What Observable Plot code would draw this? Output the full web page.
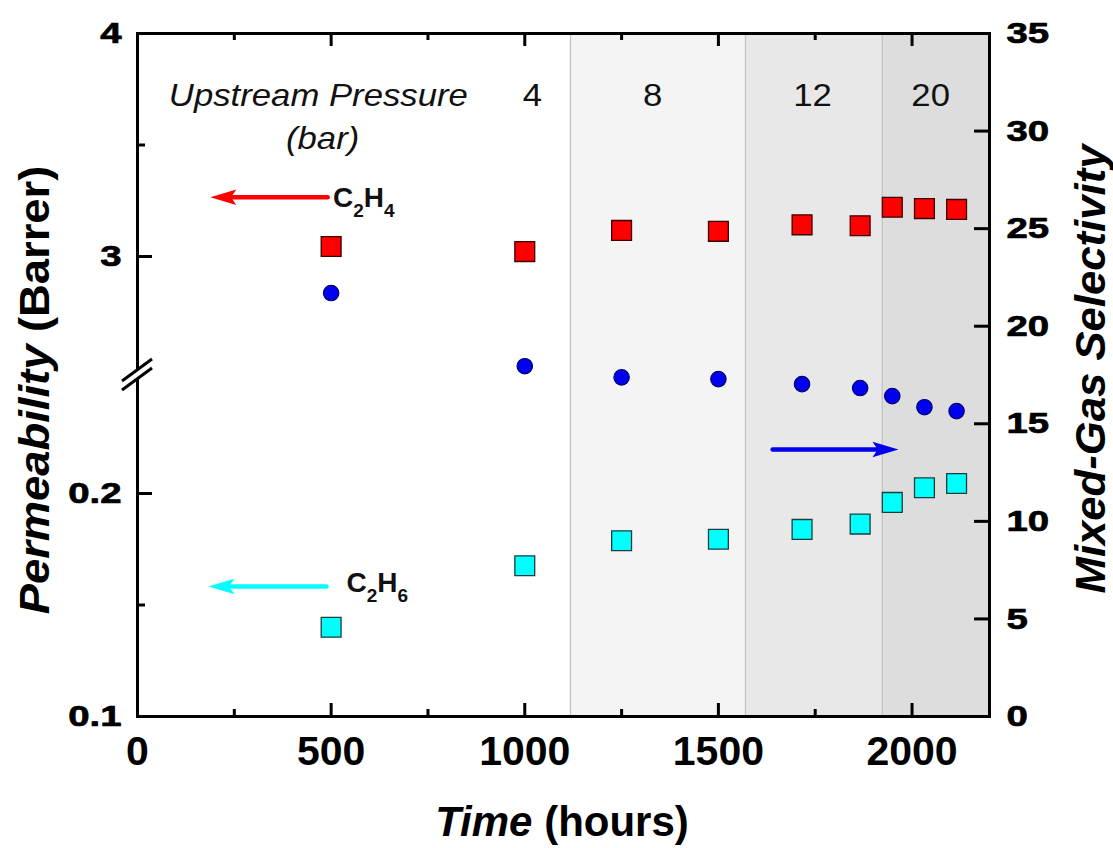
<!DOCTYPE html>
<html><head><meta charset="utf-8">
<script src="https://cdn.jsdelivr.net/npm/d3@7"></script>
<script src="https://cdn.jsdelivr.net/npm/@observablehq/plot@0.6"></script>
<style>
html,body{margin:0;padding:0;background:#fff;}
#wrap{position:relative;width:1113px;height:848px;overflow:hidden;}
#wrap svg{position:absolute;left:0;top:0;}
</style></head><body><div id="wrap"></div>
<script>
// ---------- data ----------
const hours = [500, 1000, 1250, 1500, 1716, 1866, 1949, 2032, 2115];
const permC2H4 = [3.045, 3.022, 3.117, 3.113, 3.142, 3.138, 3.221, 3.215, 3.211];
const permC2H6 = [0.140, 0.1676, 0.1788, 0.1795, 0.1839, 0.1863, 0.196, 0.2026, 0.2045];
const selectivity = [21.7, 17.95, 17.38, 17.29, 17.03, 16.83, 16.42, 15.85, 15.65];

const regionStart = [0, 1118, 1570, 1923];
const regionEnd = [1118, 1570, 1923, 2200];
const regionFill = ["#ffffff", "#f4f4f4", "#e8e8e8", "#dddddd"];
const boundaries = [1118, 1570, 1923];

const pressureLabels = ["4", "8", "12", "20"];
const pressureLabelHours = [1020, 1330, 1743, 2048];
const pressureLabelY = 3.677;
const headerLines = ["Upstream Pressure", "(bar)"];
const headerHours = [467, 478];
const headerY = [3.677, 3.484];

const xMajor = [0, 500, 1000, 1500, 2000];
const xMinor = [250, 750, 1250, 1750];
const leftMajor = [0.1, 0.2, 3, 4];
const leftMinor = [0.15, 3.5];
const rightTicks = [0, 5, 10, 15, 20, 25, 30, 35];
const yPermDomain = [0.1, 0.25, 2.5, 4];

const permArrows = [
  {x1: 491, x2: 188, y: 3.266, color: "#ff0000"},
  {x1: 488, x2: 183, y: 0.1583, color: "#00ffff"}
];
const selArrows = [{x1: 1640, x2: 1965, y: 13.68, color: "#0000ee"}];
const gasLabels = [
  {sub1: "2", sub2: "4", x: 506, y: 3.22},
  {sub1: "2", sub2: "6", x: 541, y: 0.1555}
];

// ---------- layout ----------
const W = 1113, H = 848;
const M = {top: 33, right: 124, bottom: 132, left: 137};
const frameW = W - M.left - M.right;
const frameH = H - M.top - M.bottom;
const FONT = "'Liberation Sans', Arial, Helvetica, sans-serif";
const YTICK_FS = 30, YTICK_STRETCH = 1.28;

const c2h4 = hours.map((h, i) => ({hours: h, value: permC2H4[i]}));
const c2h6 = hours.map((h, i) => ({hours: h, value: permC2H6[i]}));
const sel = hours.map((h, i) => ({hours: h, value: selectivity[i]}));
const regions = regionStart.map((s, i) => ({start: s, end: regionEnd[i], fill: regionFill[i]}));
const pLabels = pressureLabels.map((t, i) => ({text: t, hours: pressureLabelHours[i], y: pressureLabelY}));
const hLabels = headerLines.map((t, i) => ({text: t, hours: headerHours[i], y: headerY[i]}));

// arrow-head symbols (tip at the origin)
const headLeft = {draw(ctx, size) {
  const L = Math.sqrt(size / Math.PI);
  ctx.moveTo(0, 0); ctx.lineTo(L, -0.3 * L); ctx.lineTo(0.8 * L, 0); ctx.lineTo(L, 0.3 * L); ctx.closePath();
}};
const headRight = {draw(ctx, size) {
  const L = Math.sqrt(size / Math.PI);
  ctx.moveTo(0, 0); ctx.lineTo(-L, -0.3 * L); ctx.lineTo(-0.8 * L, 0); ctx.lineTo(-L, 0.3 * L); ctx.closePath();
}};

const common = {
  width: W, height: H,
  marginTop: M.top, marginRight: M.right, marginBottom: M.bottom, marginLeft: M.left,
  x: {domain: [0, 2200]}
};

const plot1 = Plot.plot({
  ...common,
  style: {fontFamily: FONT, background: "white", overflow: "visible"},
  y: {type: "linear", domain: yPermDomain, range: [716, 381.5, 367.5, 33], axis: null},
  color: {type: "identity"},
  marks: [
    Plot.rect(regions, {x1: "start", x2: "end", y1: 0.1, y2: 4, fill: "fill"}),
    Plot.ruleX(boundaries, {x: d => d, stroke: "#c2c2c2", strokeWidth: 1.3}),
    Plot.text(hLabels, {x: "hours", y: "y", text: "text", lineAnchor: "bottom", fontSize: 31, fontStyle: "italic", fill: "#111", className: "stretch-ann"}),
    Plot.text(pLabels, {x: "hours", y: "y", text: "text", lineAnchor: "bottom", fontSize: 31, fill: "#111", className: "stretch-ann"}),
    Plot.link(permArrows, {x1: "x1", x2: d => d.x2 + 25, y1: "y", y2: "y", stroke: "color", strokeWidth: 4.5, strokeLinecap: "round"}),
    Plot.dot(permArrows, {x: "x2", y: "y", symbol: headLeft, r: 26, fill: "color", stroke: null}),
    Plot.dot(c2h4, {x: "hours", y: "value", symbol: "square", r: 11.2, fill: "#ff0000", stroke: "#3a0000", strokeWidth: 1.3}),
    Plot.dot(c2h6, {x: "hours", y: "value", symbol: "square", r: 11.2, fill: "#00ffff", stroke: "#1e3c3c", strokeWidth: 1.3}),
    Plot.tickY(leftMajor, {y: d => d, stroke: "black", strokeWidth: 3, insetRight: frameW - 15}),
    Plot.tickY(leftMinor, {y: d => d, stroke: "black", strokeWidth: 3, insetRight: frameW - 8}),
    Plot.tickX(xMajor, {x: d => d, stroke: "black", strokeWidth: 3, insetTop: frameH - 13}),
    Plot.tickX(xMinor, {x: d => d, stroke: "black", strokeWidth: 3, insetTop: frameH - 7}),
    Plot.tickX(xMajor, {x: d => d, stroke: "black", strokeWidth: 3, insetBottom: frameH - 13}),
    Plot.tickX(xMinor, {x: d => d, stroke: "black", strokeWidth: 3, insetBottom: frameH - 7}),
    Plot.text(leftMajor, {y: d => d, text: d => String(d), frameAnchor: "left", textAnchor: "end", dx: -16,
      fontSize: YTICK_FS, fontWeight: "bold", fill: "black", stroke: "black", strokeWidth: 0.7, className: "ytick-left"}),
    Plot.axisX({ticks: xMajor, anchor: "bottom", tickSize: 0, tickPadding: 19, tickFormat: d => String(d), fontSize: 41, fontWeight: "bold", label: null}),
    Plot.frame({stroke: "black", strokeWidth: 3})
  ]
});

const plot2 = Plot.plot({
  ...common,
  style: {fontFamily: FONT, background: "transparent", overflow: "visible"},
  x: {domain: [0, 2200], axis: null},
  y: {domain: [0, 35], axis: null},
  color: {type: "identity"},
  marks: [
    Plot.link(selArrows, {x1: "x1", x2: d => d.x2 - 25, y1: "y", y2: "y", stroke: "color", strokeWidth: 4.5, strokeLinecap: "round"}),
    Plot.dot(selArrows, {x: "x2", y: "y", symbol: headRight, r: 26, fill: "color", stroke: null}),
    Plot.dot(sel, {x: "hours", y: "value", r: 7.7, fill: "#0000ee", stroke: "#00006e", strokeWidth: 1.2}),
    Plot.tickY(rightTicks, {y: d => d, stroke: "black", strokeWidth: 3, insetLeft: frameW - 15}),
    Plot.text(rightTicks, {y: d => d, text: d => String(d), frameAnchor: "right", textAnchor: "start", dx: 17,
      fontSize: YTICK_FS, fontWeight: "bold", fill: "black", stroke: "black", strokeWidth: 0.7, className: "ytick-right"})
  ]
});

const wrap = document.getElementById("wrap");
wrap.appendChild(plot1);
wrap.appendChild(plot2);

// horizontal stretch of text to match the reference lettering
function stretch(nodes, s) {
  nodes.each(function() {
    const t = this.getAttribute("transform");
    if (t) this.setAttribute("transform", t + ` scale(${s},1)`);
    else {
      const x = +this.getAttribute("x") || 0, y = +this.getAttribute("y") || 0;
      this.setAttribute("x", 0); this.setAttribute("y", 0);
      this.setAttribute("transform", `translate(${x},${y}) scale(${s},1)`);
    }
  });
}
const s1 = d3.select(plot1), s2 = d3.select(plot2);
s1.selectAll('g[aria-label="x-axis tick label"] text').style("font-size", "41px").style("font-weight", "bold").style("font-family", FONT);
stretch(s1.selectAll('.ytick-left text'), YTICK_STRETCH);
stretch(s2.selectAll('.ytick-right text'), YTICK_STRETCH);
stretch(s1.selectAll('.stretch-ann text'), 1.12);

// axis break on the left axis
const sx = plot1.scale("x"), sy = plot1.scale("y");
const yBreak = (sy.apply(yPermDomain[1]) + sy.apply(yPermDomain[2])) / 2;
const xl = sx.apply(0);
const brk = s1.append("g");
brk.append("path")
  .attr("d", `M${xl - 5},${yBreak + 8} L${xl + 5},${yBreak + 1} L${xl + 5},${yBreak - 9} L${xl - 5},${yBreak - 2} Z`)
  .attr("fill", "white");
for (const off of [-4.5, 4.5]) {
  brk.append("line")
    .attr("x1", xl - 15).attr("y1", yBreak + off + 11)
    .attr("x2", xl + 15).attr("y2", yBreak + off - 11)
    .attr("stroke", "black").attr("stroke-width", 3);
}

// gas labels with subscripts
const gl = s1.append("g").attr("font-family", FONT).attr("font-weight", "bold").attr("fill", "#111").attr("text-anchor", "start");
for (const lab of gasLabels) {
  const t = gl.append("text").attr("text-anchor", "start").attr("transform", `translate(${sx.apply(lab.x)},${sy.apply(lab.y)})`).attr("font-size", 28);
  t.append("tspan").text("C");
  t.append("tspan").text(lab.sub1).attr("font-size", 19).attr("dy", 10);
  t.append("tspan").text("H").attr("dy", -10);
  t.append("tspan").text(lab.sub2).attr("font-size", 19).attr("dy", 10);
}

// axis titles
const tg = s2.append("g").attr("font-family", FONT).attr("font-weight", "bold").attr("fill", "black").attr("font-size", 42);
const tx = tg.append("text").attr("text-anchor", "middle").attr("transform", "translate(562,836)");
tx.append("tspan").attr("font-style", "italic").text("Time");
tx.append("tspan").text(" (hours)");
const tl = tg.append("text").attr("text-anchor", "middle").attr("transform", "translate(49,390) rotate(-90) scale(1.08,1)");
tl.append("tspan").attr("font-style", "italic").text("Permeability");
tl.append("tspan").text(" (Barrer)");
tg.append("text").attr("text-anchor", "middle").attr("font-style", "italic")
  .attr("transform", "translate(1105,369) rotate(-90) scale(1.04,1)").text("Mixed-Gas Selectivity");
</script>
</body></html>
